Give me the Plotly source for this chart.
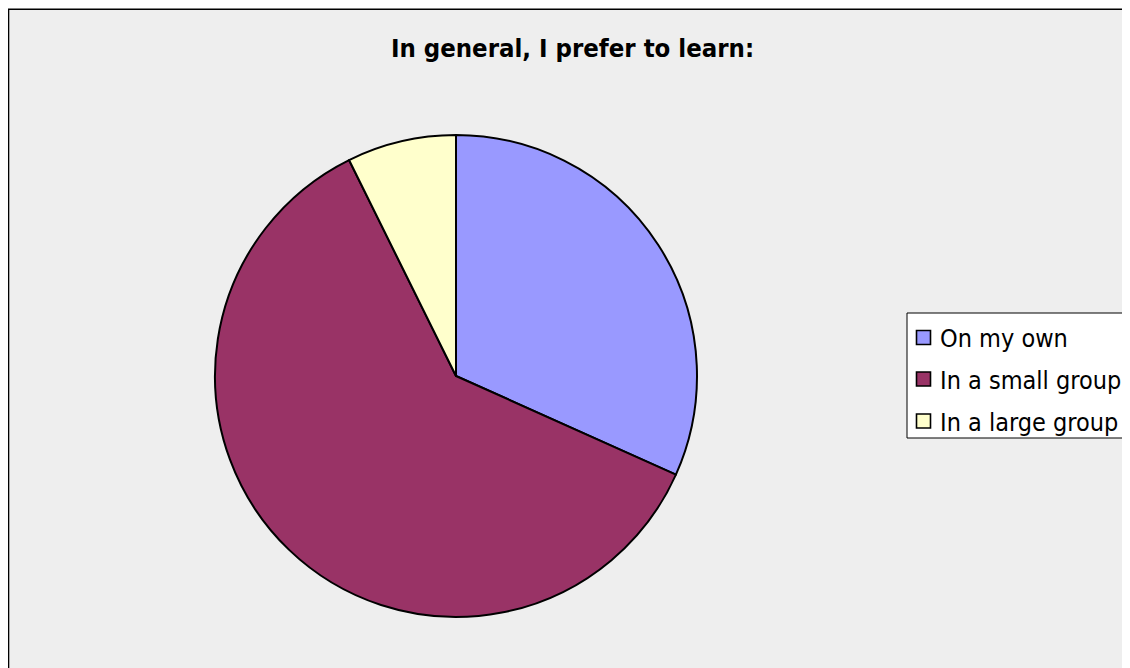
import plotly.graph_objects as go

labels = ["On my own", "In a small group", "In a large group"]
values = [13, 25, 3]
colors = ["#9999FF", "#993366", "#FFFFCC"]
title_text = "In general, I prefer to learn:"

W, H = 1122, 660
OFF = 8  # page body margin


def px(x):
    return (x - OFF) / W


def py(y):
    return 1 - (y - OFF) / H


fig = go.Figure(
    go.Pie(
        labels=labels,
        values=values,
        marker=dict(colors=colors, line=dict(color="black", width=2)),
        sort=False,
        direction="clockwise",
        rotation=0,
        textinfo="none",
        hoverinfo="label+value+percent",
        domain=dict(x=[px(215), px(697)], y=[py(617), py(135)]),
        showlegend=False,
    )
)

shapes = [
    dict(type="rect", xref="paper", yref="paper", x0=px(8.5), y0=py(700), x1=px(1160), y1=py(9.3),
         fillcolor="#EEEEEE", line=dict(color="black", width=1.6), layer="below"),
    dict(type="rect", xref="paper", yref="paper", x0=px(907), y0=py(438), x1=px(1145), y1=py(313),
         fillcolor="white", line=dict(color="black", width=1), layer="below"),
]
annotations = []
item_y = [337.5, 379, 421]
for lab, col, yc in zip(labels, colors, item_y):
    shapes.append(dict(type="rect", xref="paper", yref="paper",
                       x0=px(916.5), x1=px(930.5), y0=py(yc + 7), y1=py(yc - 7),
                       fillcolor=col, line=dict(color="black", width=1.6), layer="above"))
    annotations.append(dict(text=lab, x=px(938), y=py(yc + 1), xref="paper", yref="paper",
                            xanchor="left", yanchor="middle", showarrow=False,
                            font=dict(family="DejaVu Sans Condensed", size=25, color="black")))

fig.update_layout(
    width=W, height=H,
    margin=dict(l=0, r=0, t=0, b=0),
    paper_bgcolor="white",
    plot_bgcolor="white",
    title=dict(text="<b>" + title_text + "</b>", x=px(572.5), y=py(48), xanchor="center", yanchor="middle",
               font=dict(family="DejaVu Sans Condensed", size=25.5, color="black")),
    shapes=shapes,
    annotations=annotations,
)

fig.write_html("out.html")
